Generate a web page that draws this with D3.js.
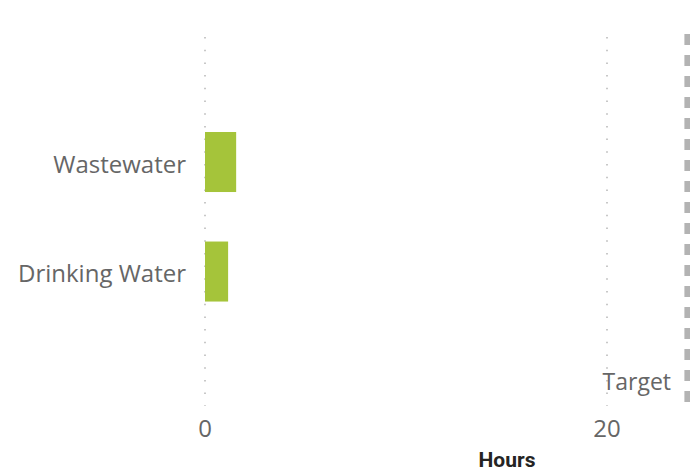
<!DOCTYPE html>
<html><head><meta charset="utf-8">
<script src="https://cdn.jsdelivr.net/npm/d3@7"></script>
<style>body{margin:0;background:#fff;} svg{display:block;}</style>
</head><body>
<svg id="chart" width="690" height="473"></svg>
<script>
const categories = ["Wastewater", "Drinking Water"];
const hours = [1.55, 1.15];
const tickValues = [0, 20];
const targetValue = 24;
const targetLabel = "Target";
const axisTitle = "Hours";

const svg = d3.select("#chart");
const x = d3.scaleLinear().domain([0, 20]).range([205, 607]);
const y = d3.scaleBand().domain(categories).range([77.25, 356.3]).paddingInner(0.452).paddingOuter(0.5);

// gridlines
svg.append("g").selectAll("line").data(tickValues).join("line")
  .attr("x1", d => x(d)).attr("x2", d => x(d))
  .attr("y1", 37).attr("y2", 406)
  .attr("stroke", "#c8c8c8").attr("stroke-width", 2)
  .attr("stroke-dasharray", "1.5,11.2");

// bars
svg.append("g").selectAll("rect").data(categories).join("rect")
  .attr("x", x(0)).attr("y", d => y(d))
  .attr("width", (d, i) => x(hours[i]) - x(0))
  .attr("height", y.bandwidth())
  .attr("fill", "#a5c43a");

// category labels
svg.append("g").selectAll("text").data(categories).join("text")
  .attr("x", 186).attr("y", d => y(d) + y.bandwidth() / 2 + 2.5)
  .attr("dy", "0.35em").attr("text-anchor", "end")
  .attr("font-family", "'Open Sans', sans-serif").attr("font-size", 24)
  .attr("fill", "#666666").text(d => d);

// x axis ticks
svg.append("g").selectAll("text").data(tickValues).join("text")
  .attr("x", d => x(d)).attr("y", 437)
  .attr("text-anchor", "middle")
  .attr("font-family", "'Open Sans', sans-serif").attr("font-size", 24)
  .attr("fill", "#666666").text(d => d);

// target line
svg.append("line")
  .attr("x1", x(targetValue)).attr("x2", x(targetValue))
  .attr("y1", 34).attr("y2", 406)
  .attr("stroke", "#b3b3b3").attr("stroke-width", 6)
  .attr("stroke-dasharray", "11,10");
svg.append("text")
  .attr("x", 671).attr("y", 390).attr("text-anchor", "end")
  .attr("font-family", "'Open Sans', sans-serif").attr("font-size", 23)
  .attr("fill", "#666666").text(targetLabel);

// axis title
svg.append("text")
  .attr("x", 507).attr("y", 467).attr("text-anchor", "middle")
  .attr("font-family", "Roboto, sans-serif").attr("font-weight", "bold").attr("font-size", 21)
  .attr("fill", "#252423").text(axisTitle);
</script>
</body></html>
